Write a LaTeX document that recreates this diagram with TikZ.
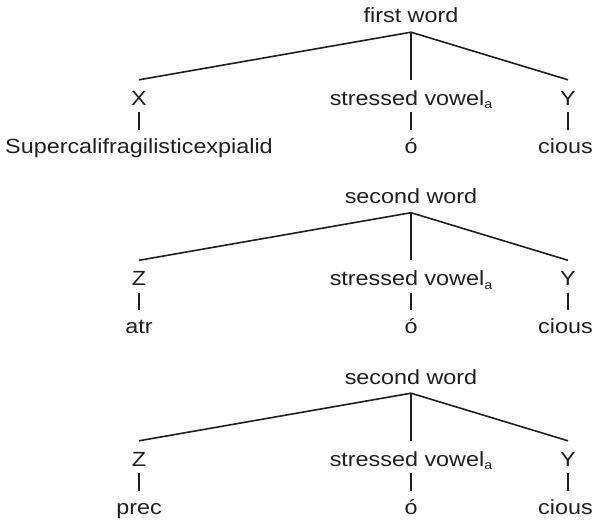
\documentclass[tikz,border=0pt]{standalone}
\usepackage{fontspec}
\setmainfont[FakeStretch=1.14]{Liberation Sans}
\definecolor{ink}{HTML}{231F20}
\tikzset{
  lbl/.style={anchor=base, inner sep=0pt, text height=15pt, text depth=4pt,
              font=\fontsize{20.5}{24}\selectfont, text=ink},
  branch/.style={draw=ink, line width=1.6pt},
}
% small lowered index letter
\newcommand\vsub[1]{\raisebox{-0.35ex}{\fontsize{12.5}{13}\selectfont #1}}
% one word tree: #1 id, #2 vertical offset, #3 root label, #4 left label, #5 left segment
\newcommand\wordtree[5]{%
  \begin{scope}[yshift=#2]
    \node[lbl] (#1t) at (411,23) {#3};
    \coordinate (#1r) at ([yshift=-5pt]#1t.south);
    \node[lbl] (#1a) at (139,105) {#4};
    \node[lbl] (#1b) at (411,105) {stressed vowel\vsub{a}};
    \node[lbl] (#1c) at (568,105) {Y};
    \node[lbl] (#1aw) at (139,153) {#5};
    \node[lbl] (#1bw) at (411,153) {ó};
    \node[lbl] (#1cw) at (565.5,153) {cious};
    \coordinate (#1ce) at (#1c.south |- #1cw.north);
    \draw[branch] (#1r) -- ([yshift=10pt]#1a.north);
    \draw[branch] (#1r) -- ([yshift=10pt]#1b.north);
    \draw[branch] (#1r) -- ([yshift=10pt]#1c.north);
    \draw[branch] ([yshift=-3pt]#1a.south) -- ([yshift=8pt]#1aw.north);
    \draw[branch] ([yshift=-3pt]#1b.south) -- ([yshift=8pt]#1bw.north);
    \draw[branch] ([yshift=-3pt]#1c.south) -- ([yshift=8pt]#1ce);
  \end{scope}}
\begin{document}
\begin{tikzpicture}[x=1pt,y=-1pt]
  \fill[white] (0,0) rectangle (593,519);
  \useasboundingbox (0,0) rectangle (593,519);
  \wordtree{p}{0pt}{first word}{X}{Supercalifragilisticexpialid}
  \wordtree{q}{-180.5pt}{second word}{Z}{atr}
  \wordtree{s}{-361pt}{second word}{Z}{prec}
\end{tikzpicture}
\end{document}
